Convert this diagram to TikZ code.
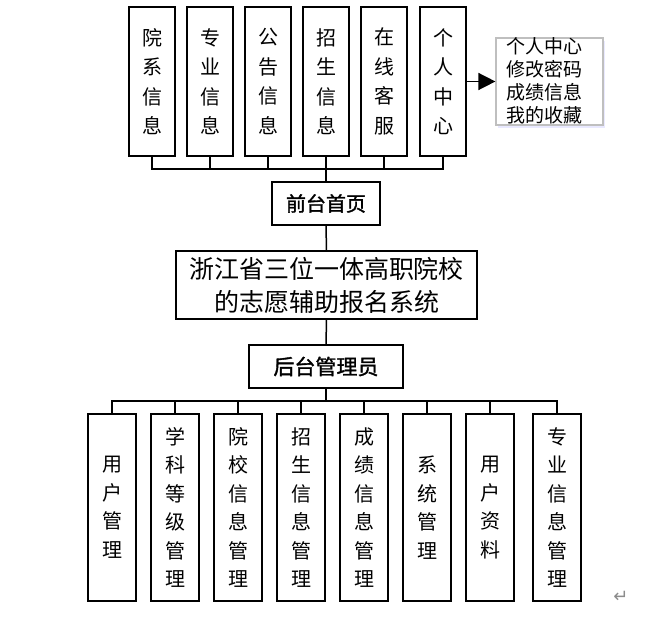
\documentclass[tikz,border=0pt]{standalone}
\usepackage{fontspec}
\newfontfamily\cjk{Noto Sans CJK SC}
\newfontfamily\cjkb[FakeBold=1.6]{Noto Sans CJK SC}
\newfontfamily\dejavu{DejaVu Sans}
\usetikzlibrary{arrows.meta,shadows}
\tikzset{
  vbox/.style={draw=black, line width=1.5pt, fill=white, inner sep=0pt, align=center, font=\cjk\fontsize{20}{29.5}\selectfont},
  topbox/.style={vbox, minimum width=46pt, minimum height=149pt},
  botbox/.style={vbox, minimum width=48pt, minimum height=187pt, font=\cjk\fontsize{20}{28.5}\selectfont},
  hbox/.style={draw=black, line width=1.5pt, fill=white, inner sep=0pt, align=center},
  conn/.style={draw=black, line width=1.5pt},
}
\begin{document}
\begin{tikzpicture}[x=1pt,y=-1pt]
\useasboundingbox (0,0) rectangle (654,617);
% top row
\node[topbox] (t1) at (152,81.5) {院\\系\\信\\息};
\node[topbox] (t2) at (210,81.5) {专\\业\\信\\息};
\node[topbox] (t3) at (268,81.5) {公\\告\\信\\息};
\node[topbox] (t4) at (326,81.5) {招\\生\\信\\息};
\node[topbox] (t5) at (384,81.5) {在\\线\\客\\服};
\node[topbox] (t6) at (443,81.5) {个\\人\\中\\心};
% side box
\node[draw=black!25, line width=1.2pt, fill=white, minimum width=107pt, minimum height=87pt, inner sep=0pt,
  drop shadow={shadow xshift=2pt, shadow yshift=-3pt, fill=blue!25, opacity=0.35}] (side) at (549.5,81.5) {};
\node[anchor=west, align=left, inner sep=0pt, font=\cjk\fontsize{19}{23}\selectfont] (sidetext) at (506,80.5) {个人中心\\修改密码\\成绩信息\\我的收藏};
\draw[conn, -{Triangle[length=17pt,width=17pt]}] (t6.east |- side.west) -- (side.west);
% middle
\node[hbox, minimum width=108pt, minimum height=43pt, font=\cjkb\fontsize{20}{24}\selectfont] (fp) at (326,203.5) {前台首页};
\node[hbox, minimum width=301pt, minimum height=68pt, font=\cjk\fontsize{25}{33}\selectfont] (sys) at (326.5,285) {浙江省三位一体高职院校\\的志愿辅助报名系统};
\node[hbox, minimum width=154pt, minimum height=43pt, font=\cjkb\fontsize{21}{25}\selectfont] (adm) at (326,366.5) {后台管理员};
% bottom row
\node[botbox] (b1) at (112,507.5) {用\\户\\管\\理};
\node[botbox] (b2) at (175,507.5) {学\\科\\等\\级\\管\\理};
\node[botbox] (b3) at (238,507.5) {院\\校\\信\\息\\管\\理};
\node[botbox] (b4) at (301,507.5) {招\\生\\信\\息\\管\\理};
\node[botbox] (b5) at (364,507.5) {成\\绩\\信\\息\\管\\理};
\node[botbox] (b6) at (427,507.5) {系\\统\\管\\理};
\node[botbox] (b7) at (490,507.5) {用\\户\\资\\料};
\node[botbox] (b8) at (557,507.5) {专\\业\\信\\息\\管\\理};
% buses
\coordinate (busT) at (326,169);
\coordinate (busB) at (326,401);
\foreach \n in {t1,t2,t3,t4,t5,t6}{
  \draw[conn] (\n.south) -- (\n.south |- busT) -| (fp.north);
}
\foreach \n in {b1,b2,b3,b4,b5,b6,b7,b8}{
  \draw[conn] (\n.north) -- (\n.north |- busB) -| (adm.south);
}
\draw[conn] (fp.south) -- (sys.north);
\draw[conn] (sys.south) -- (adm.north);
% paragraph mark
\node[text=black!45, font=\dejavu\fontsize{18}{18}\selectfont, inner sep=0pt] (pm) at (621,597) {↵};
\end{tikzpicture}
\end{document}
